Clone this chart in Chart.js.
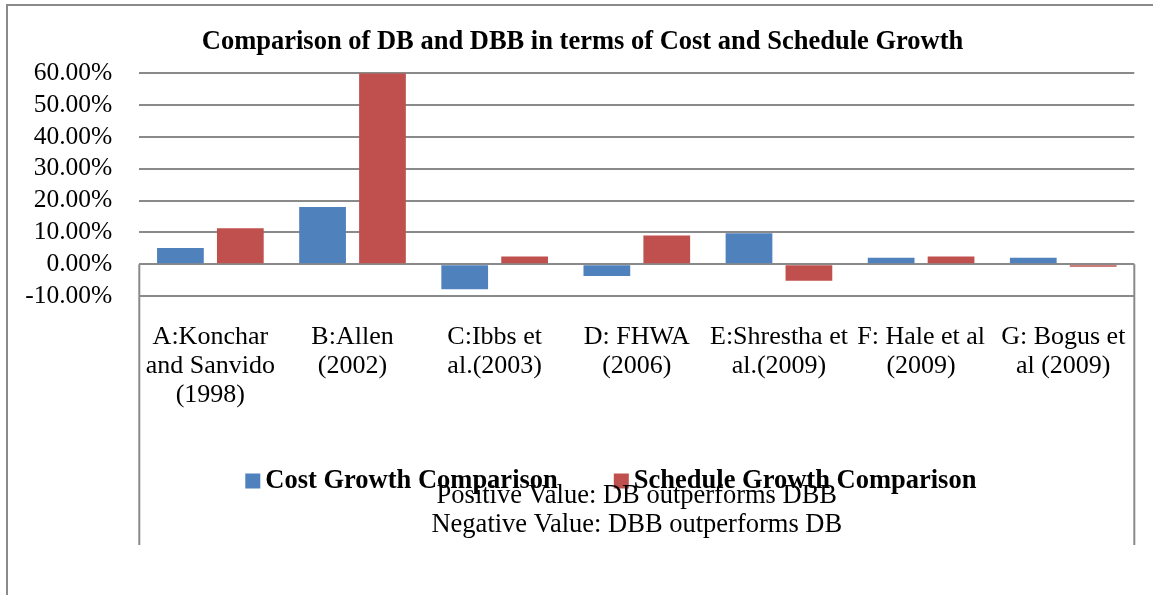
<!DOCTYPE html>
<html>
<head>
<meta charset="utf-8">
<script src="https://cdn.jsdelivr.net/npm/chart.js@4.4.1/dist/chart.umd.min.js"></script>
<style>
  html, body { margin: 0; padding: 0; background: #fff; }
  #wrap { position: relative; width: 1153px; height: 595px; }
  #frame { position: absolute; left: 6px; top: 4px; width: 1160px; height: 600px;
           border-left: 2px solid #8a8a8a; border-top: 2px solid #8a8a8a; box-sizing: border-box; }
  canvas { position: absolute; left: 0; top: 0; }
</style>
</head>
<body>
<div id="wrap">
  <div id="frame"></div>
  <canvas id="chart" width="1153" height="595"></canvas>
</div>
<script>
// Data (percent)
const studies = [
    ["A:Konchar", "and Sanvido", "(1998)"],
    ["B:Allen", "(2002)"],
    ["C:Ibbs et", "al.(2003)"],
    ["D: FHWA", "(2006)"],
    ["E:Shrestha et", "al.(2009)"],
    ["F: Hale et al", "(2009)"],
    ["G: Bogus et", "al (2009)"]
];
const costGrowth = [5.1, 18.0, -7.9, -3.7, 9.7, 2.0, 2.0];
const scheduleGrowth = [11.3, 60.0, 2.4, 9.0, -5.2, 2.4, -0.8];
const chartTitle = "Comparison of DB and DBB in terms of Cost and Schedule Growth";
const notes = ["Positive Value: DB outperforms DBB", "Negative Value: DBB outperforms DB"];

const serif = "'Liberation Serif', 'Times New Roman', serif";
const gridGray = "#8a8a8a";

// Title, Excel-style side frame, legend and the note lines
const extrasPlugin = {
    id: "extras",
    afterDraw(chart) {
        const ctx = chart.ctx;
        const area = chart.chartArea;
        const zeroY = chart.scales.y.getPixelForValue(0);
        const bottomY = 545;

        ctx.save();
        ctx.strokeStyle = gridGray;
        ctx.lineWidth = 2;
        ctx.beginPath();
        ctx.moveTo(area.left, zeroY);
        ctx.lineTo(area.left, bottomY);
        ctx.moveTo(area.right, zeroY);
        ctx.lineTo(area.right, bottomY);
        ctx.stroke();

        ctx.fillStyle = "#000";
        ctx.textBaseline = "middle";
        ctx.textAlign = "center";
        ctx.font = "bold 26.5px " + serif;
        ctx.fillText(chartTitle, 582.5, 42);

        // legend
        ctx.textAlign = "left";
        const legendY = 481;
        let x = area.left + 106;
        chart.data.datasets.forEach(ds => {
            ctx.fillStyle = ds.backgroundColor;
            ctx.fillRect(x, legendY - 7.5, 15, 15);
            ctx.fillStyle = "#000";
            ctx.fillText(ds.label, x + 20, legendY);
            x += 20 + ctx.measureText(ds.label).width + 56;
        });

        // notes
        ctx.font = "26.5px " + serif;
        ctx.textAlign = "center";
        const cx = (area.left + area.right) / 2;
        notes.forEach((t, i) => ctx.fillText(t, cx, 496 + i * 29));
        ctx.restore();
    }
};

new Chart(document.getElementById("chart"), {
    type: "bar",
    data: {
        labels: studies,
        datasets: [
            {
                label: "Cost Growth Comparison",
                data: costGrowth,
                backgroundColor: "#4F81BD",
                categoryPercentage: 0.843,
                barPercentage: 0.78
            },
            {
                label: "Schedule Growth Comparison",
                data: scheduleGrowth,
                backgroundColor: "#C0504D",
                categoryPercentage: 0.843,
                barPercentage: 0.78
            }
        ]
    },
    options: {
        responsive: false,
        animation: false,
        layout: { padding: { top: 73.3, right: 17.5, left: 0, bottom: 0 } },
        plugins: {
            legend: { display: false },
            tooltip: { enabled: false },
            title: { display: false }
        },
        scales: {
            x: {
                grid: { display: false, drawTicks: false },
                border: { display: false },
                ticks: {
                    color: "#000",
                    font: { family: serif, size: 26, lineHeight: 1.127 },
                    padding: 26.4,
                    autoSkip: false,
                    maxRotation: 0,
                    minRotation: 0
                },
                afterFit: s => { s.height = 299; }
            },
            y: {
                min: -10,
                max: 60,
                grid: { color: gridGray, lineWidth: 2, drawTicks: false },
                border: { display: false },
                ticks: {
                    stepSize: 10,
                    autoSkip: false,
                    color: "#000",
                    font: { family: serif, size: 25.5 },
                    padding: 27,
                    callback: v => v.toFixed(2) + "%"
                },
                afterFit: s => { s.width = 139.3; }
            }
        }
    },
    plugins: [extrasPlugin]
});
</script>
</body>
</html>
